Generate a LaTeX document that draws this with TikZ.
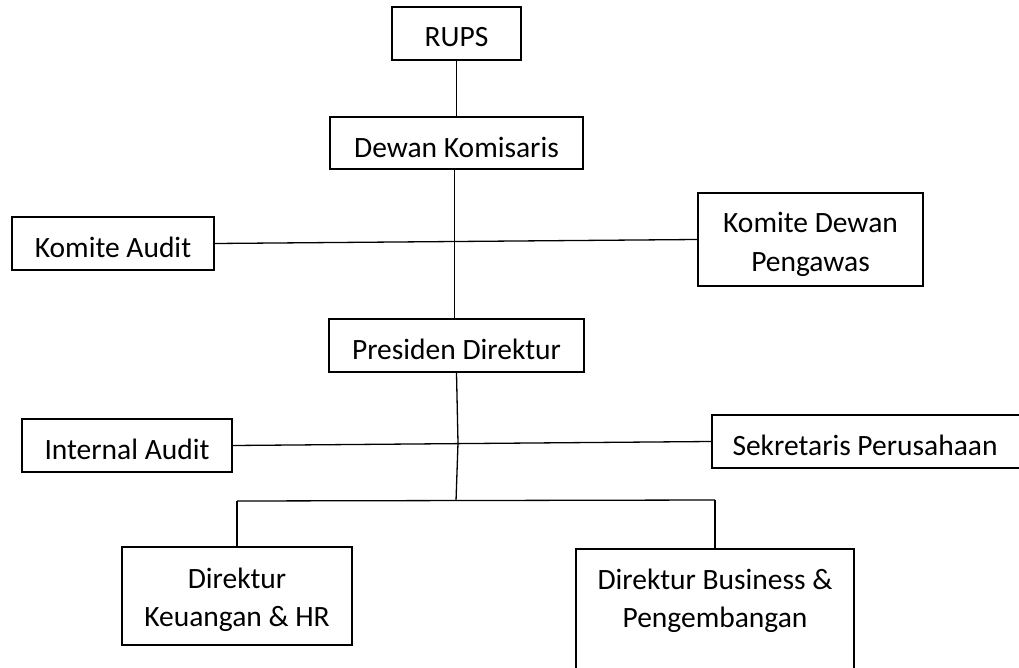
\documentclass[tikz,border=0pt]{standalone}
\usepackage{fontspec}
\setmainfont{Carlito}
\usetikzlibrary{calc}
\begin{document}
\begin{tikzpicture}[x=1pt,y=-1pt,
  box/.style={draw=black,line width=2pt,inner sep=0pt},
  txt/.style={inner sep=0pt,align=center,font=\fontsize{29.5}{38.5}\selectfont},
  link/.style={draw=black,line width=1.3pt}]
\useasboundingbox (0,0) rectangle (1019,668);
\clip (0,0) rectangle (1019,668);
\fill[white] (0,0) rectangle (1019,668);
% boxes
\node[box,minimum width=129pt,minimum height=53pt] (rups) at (456.5,33.5) {};
\node[box,minimum width=253pt,minimum height=52pt] (dk) at (456.5,143) {};
\node[box,minimum width=202pt,minimum height=53pt] (ka) at (113,243.5) {};
\node[box,minimum width=225pt,minimum height=93pt] (kdp) at (810.5,239.5) {};
\node[box,minimum width=255pt,minimum height=53pt] (pd) at (456.5,345.5) {};
\node[box,minimum width=210pt,minimum height=53pt] (ia) at (127,445.5) {};
\node[box,minimum width=310pt,minimum height=53pt] (sp) at (867,441.5) {};
\node[box,minimum width=230pt,minimum height=98pt] (dkhr) at (237,596) {};
\node[box,minimum width=278pt,minimum height=140pt] (dbp) at (715,619) {};
% texts
\node[txt] (rupst) at ($(rups)+(0,4)$) {RUPS};
\node[txt] (dkt) at ($(dk)+(0,4)$) {Dewan Komisaris};
\node[txt] (kat) at ($(ka)+(0,4)$) {Komite Audit};
\node[txt] (kdpt) at ($(kdp)+(0,5)$) {Komite Dewan\\Pengawas};
\node[txt] (pdt) at ($(pd)+(0,4)$) {Presiden Direktur};
\node[txt] (iat) at ($(ia)+(0,4)$) {Internal Audit};
\node[txt] (spt) at ($(sp)+(-2,4)$) {Sekretaris Perusahaan};
\node[txt] (dkhrt) at ($(dkhr)+(0,4)$) {Direktur\\Keuangan \& HR};
\node[txt] (dbpt) at ($(dbp.north)+(0,53)$) {Direktur Business \&\\Pengembangan};
% connectors
\coordinate (j1) at (458,443);
\coordinate (j2) at (456,501);
\coordinate (bl) at (237,501);
\coordinate (br) at (715,500);
\draw[link] (rups.south) -- (dk.north);
\draw[link] ([xshift=-2pt]dk.south) -- ([xshift=-2pt]pd.north);
\draw[link] (ka.east) -- (kdp.west);
\draw[link] (pd.south) -- (j1);
\draw[link] (ia.east) -- (sp.west);
\draw[link] (j1) -- (j2);
\draw[link] (bl) -- (br);
\draw[link] (bl) -- (dkhr.north);
\draw[link] (br) -- (dbp.north);
\end{tikzpicture}
\end{document}
